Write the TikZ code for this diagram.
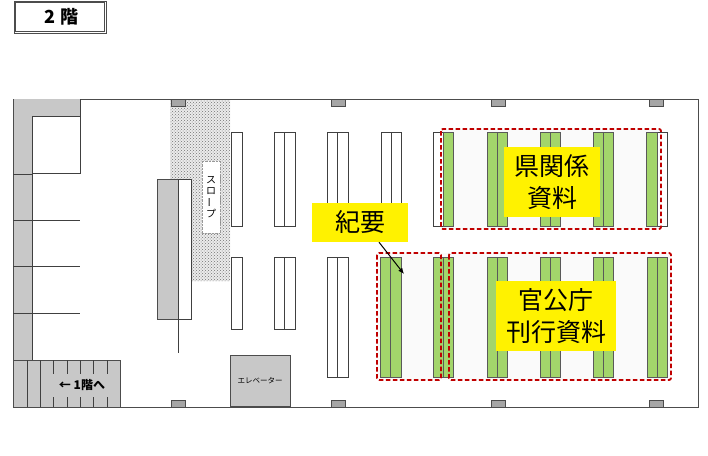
\documentclass[tikz,border=0pt]{standalone}
\usepackage{fontspec}
\setmainfont{Noto Sans CJK JP}
\usetikzlibrary{patterns,arrows.meta}
\definecolor{wallgray}{HTML}{C8C8C8}
\definecolor{pillargray}{HTML}{A6A6A6}
\definecolor{shelfgreen}{HTML}{A3D56B}
\definecolor{zonered}{HTML}{C00000}
\definecolor{zonefill}{HTML}{FAFAFA}
\tikzset{
  wall/.style={draw=black!70,fill=wallgray,line width=1pt},
  pillar/.style={draw=black!70,fill=pillargray,line width=1pt},
  shelf/.style={draw=black!75,fill=white,line width=1pt},
  booked/.style={draw=black!65,fill=shelfgreen,line width=1pt},
  zone/.style={draw=zonered,line width=1.8pt,dash pattern=on 4.5pt off 2.5pt,rounded corners=2pt},
  tag/.style={fill=yellow,align=center,inner sep=0pt,font=\fontsize{25}{32}\selectfont},
  thin wall/.style={draw=black!75,line width=1pt}
}
\begin{document}
\begin{tikzpicture}[x=1pt,y=-1pt]
  \useasboundingbox (0,0) rectangle (708,455);
  % title
  \draw[draw=black!70,line width=1pt] (14,1) rectangle (106.5,33.5);
  \node[draw=black!70,line width=1pt,minimum width=89pt,minimum height=29pt,inner sep=0pt] (title) at (60.2,17.2) {};
  \node[inner sep=0pt,font=\fontsize{18}{18}\selectfont\bfseries] (titletext) at (61.5,17) {2 階};
  % outer walls
  \draw[draw=black!70,line width=1pt] (13,99) rectangle (698,407);
  % left wall and rooms
  \fill[wallgray] (14,99) -- (80,99) -- (80,116) -- (32,116) -- (32,360) -- (14,360) -- cycle;
  \draw[thin wall] (32,360) -- (32,116) -- (80,116) -- (80,173.5) -- (32,173.5);
  \draw[thin wall] (80,99) -- (80,116);
  \draw[thin wall] (13,174.5) -- (32,174.5);
  \draw[thin wall] (13,220) -- (80,220);
  \draw[thin wall] (13,266) -- (80,266);
  \draw[thin wall] (13,313) -- (80,313);
  % slope
  \fill[black!8] (170,100) -- (230,100) -- (230,281) -- (192,281) -- (192,179) -- (170,179) -- cycle;
  \fill[pattern=crosshatch dots,pattern color=black!55] (170,100) -- (230,100) -- (230,281) -- (192,281) -- (192,179) -- (170,179) -- cycle;
  \node[draw=black!40,densely dotted,fill=white,minimum width=18pt,minimum height=72pt,inner sep=0pt,align=center,font=\fontsize{10}{10.6}\selectfont] (slope) at (211,197) {ス\\ロ\\\rotatebox[origin=c]{90}{ー}\\プ};
  % counter
  \draw[wall] (157,179) rectangle (178,319);
  \draw[shelf] (178,179) rectangle (191,319);
  \draw[thin wall] (178,319) -- (178,353);
  % pillars
  \draw[pillar] (171,99) rectangle (185,106);
  \draw[pillar] (331,99) rectangle (345,106);
  \draw[pillar] (491,99) rectangle (505,106);
  \draw[pillar] (649,99) rectangle (663,106);
  \draw[pillar] (171,400) rectangle (185,407);
  \draw[pillar] (331,400) rectangle (345,407);
  \draw[pillar] (491,400) rectangle (505,407);
  \draw[pillar] (649,400) rectangle (663,407);
  % stairs
  \draw[wall] (13,360) rectangle (120,407);
  \draw[thin wall] (27,360) -- (27,407);
  \draw[thin wall] (40,360) -- (40,407);
  \draw[thin wall] (53,360) -- (53,374) (53,397) -- (53,407);
  \draw[thin wall] (67,360) -- (67,374) (67,397) -- (67,407);
  \draw[thin wall] (80,360) -- (80,374) (80,397) -- (80,407);
  \draw[thin wall] (93,360) -- (93,374) (93,397) -- (93,407);
  \draw[thin wall] (107,360) -- (107,374) (107,397) -- (107,407);
  \node[inner sep=0pt,font=\fontsize{12}{12}\selectfont\bfseries] (stairs) at (82,385.5) {← 1階へ};
  % elevator
  \node[wall,minimum width=60pt,minimum height=51pt,inner sep=0pt,font=\fontsize{7.5}{8}\selectfont] (lift) at (260,381) {エレベーター};
  % zone backgrounds
  \fill[zonefill] (441,129) rectangle (661,229);
  \fill[zonefill] (377,253) rectangle (671,380);
  % empty shelves
  \draw[shelf] (231,132.5) rectangle (242,226);
  \draw[shelf] (274,132.5) rectangle (284.5,226);
  \draw[shelf] (284.5,132.5) rectangle (295,226);
  \draw[shelf] (327,132.5) rectangle (337.5,226);
  \draw[shelf] (337.5,132.5) rectangle (348,226);
  \draw[shelf] (381,132.5) rectangle (391,226);
  \draw[shelf] (391,132.5) rectangle (401,226);
  \draw[shelf] (433,132.5) rectangle (443,226);
  \draw[shelf] (657,132.5) rectangle (667,226);
  \draw[shelf] (231,257) rectangle (242,329.5);
  \draw[shelf] (274,257) rectangle (284.5,329.5);
  \draw[shelf] (284.5,257) rectangle (295,329.5);
  \draw[shelf] (327,257) rectangle (337.5,377);
  \draw[shelf] (337.5,257) rectangle (348,377);
  % green shelves, upper row
  \draw[booked] (443,132.5) rectangle (453,226);
  \draw[booked] (487,132.5) rectangle (497,226);
  \draw[booked] (497,132.5) rectangle (507,226);
  \draw[booked] (540,132.5) rectangle (550,226);
  \draw[booked] (550,132.5) rectangle (560,226);
  \draw[booked] (593,132.5) rectangle (603,226);
  \draw[booked] (603,132.5) rectangle (613,226);
  \draw[booked] (646.5,132.5) rectangle (657,226);
  % green shelves, lower row
  \draw[booked] (380,257) rectangle (390.5,377);
  \draw[booked] (390.5,257) rectangle (401,377);
  \draw[booked] (433.5,257) rectangle (443.5,377);
  \draw[booked] (443.5,257) rectangle (453.5,377);
  \draw[booked] (487,257) rectangle (497,377);
  \draw[booked] (497,257) rectangle (507,377);
  \draw[booked] (540,257) rectangle (550,377);
  \draw[booked] (550,257) rectangle (560,377);
  \draw[booked] (593,257) rectangle (603,377);
  \draw[booked] (603,257) rectangle (613,377);
  \draw[booked] (647,257) rectangle (657,377);
  \draw[booked] (657,257) rectangle (667,377);
  % red zones
  \draw[zone] (441,129) rectangle (661,229);
  \draw[zone] (377,253) rectangle (441,380);
  \draw[zone] (449,253) rectangle (671,380);
  % labels
  \node[tag,minimum width=96pt,minimum height=39pt] (kiyo) at (360,222.5) {紀要};
  \node[tag,minimum width=96pt,minimum height=70pt] (ken) at (552,182) {県関係\\資料};
  \node[tag,minimum width=120pt,minimum height=70pt] (kan) at (556,316) {官公庁\\刊行資料};
  \coordinate (kiyoend) at (404,274);
  \draw[-{Latex[length=6pt,width=5pt]},line width=1pt] (kiyo.south) ++(19,0) -- (kiyoend);
\end{tikzpicture}
\end{document}
